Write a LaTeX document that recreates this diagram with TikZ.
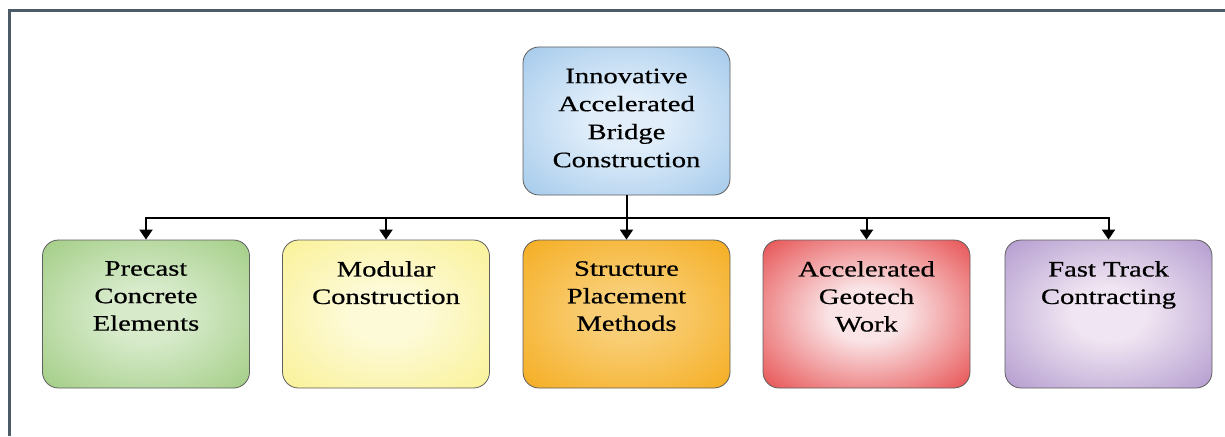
\documentclass[tikz,border=0pt]{standalone}
\usepackage{fontspec}
\setmainfont{Liberation Serif}[FakeStretch=1.3,FakeBold=0.6]
\usetikzlibrary{arrows.meta}
\definecolor{framec}{HTML}{4C5B66}
\definecolor{boxline}{HTML}{5E5E5E}
\definecolor{blueO}{RGB}{168,204,236}
\definecolor{blueI}{RGB}{225,238,250}
\definecolor{greenO}{RGB}{166,207,138}
\definecolor{greenI}{RGB}{215,235,203}
\definecolor{yellowO}{RGB}{250,242,155}
\definecolor{yellowI}{RGB}{253,250,215}
\definecolor{orangeO}{RGB}{245,175,38}
\definecolor{orangeI}{RGB}{249,205,115}
\definecolor{redO}{RGB}{232,89,90}
\definecolor{redI}{RGB}{250,228,230}
\definecolor{purpleO}{RGB}{183,160,209}
\definecolor{purpleI}{RGB}{240,229,242}
\newcommand{\mkglow}[3]{%
  \pgfdeclareradialshading{#1}{\pgfpoint{0bp}{0bp}}{%
    color(0bp)=(#2);color(9bp)=(#2);color(34bp)=(#3);color(50bp)=(#3)}}
\mkglow{glowblue}{blueI}{blueO}
\mkglow{glowgreen}{greenI}{greenO}
\mkglow{glowyellow}{yellowI}{yellowO}
\mkglow{gloworange}{orangeI}{orangeO}
\mkglow{glowred}{redI}{redO}
\mkglow{glowpurple}{purpleI}{purpleO}
\tikzset{
  card/.style={draw=boxline, line width=0.8pt, rounded corners=16pt,
    minimum width=207pt, minimum height=148pt, inner sep=0pt,
    shade, shading=#1},
  cardtext/.style={anchor=north, align=center, inner sep=0pt,
    font=\fontsize{22}{27.5}\selectfont},
  toptext/.style={align=center, inner sep=0pt,
    font=\fontsize{22}{28}\selectfont},
  conn/.style={line width=2pt, draw=black},
  arr/.style={conn, -{Triangle[width=13pt,length=10pt]}},
  framel/.style={line width=3pt, draw=framec}
}
\begin{document}
\begin{tikzpicture}[x=1pt,y=-1pt]
\useasboundingbox (0,0) rectangle (1225,436);
\fill[white] (0,0) rectangle (1225,436);
\draw[framel] (9.5,436) -- (9.5,10.5) -- (1225,10.5);

% top node
\node[card=glowblue] (top) at (626.5,121) {};
\node[toptext] (toptxt) at (626.5,118) {Innovative\\Accelerated\\Bridge\\Construction};

% bottom nodes
\node[card=glowgreen] (b1) at (146,314) {};
\node[card=glowyellow] (b2) at (386,314) {};
\node[card=gloworange] (b3) at (626.5,314) {};
\node[card=glowred] (b4) at (866.5,314) {};
\node[card=glowpurple] (b5) at (1108.5,314) {};

\node[cardtext] (t1) at (146,261) {Precast\\Concrete\\Elements};
\node[cardtext] (t2) at (386,261) {Modular\\Construction};
\node[cardtext] (t3) at (626.5,261) {Structure\\Placement\\Methods};
\node[cardtext] (t4) at (866.5,261) {Accelerated\\Geotech\\Work};
\node[cardtext] (t5) at (1108.5,261) {Fast Track\\Contracting};

% connectors
\coordinate (hub) at (626.5,218);
\draw[arr] (top.south) -- (b3.north);
\draw[arr] (hub) -| (b1.north);
\draw[arr] (hub) -| (b2.north);
\draw[arr] (hub) -| (b4.north);
\draw[arr] (hub) -| (b5.north);
\end{tikzpicture}
\end{document}
